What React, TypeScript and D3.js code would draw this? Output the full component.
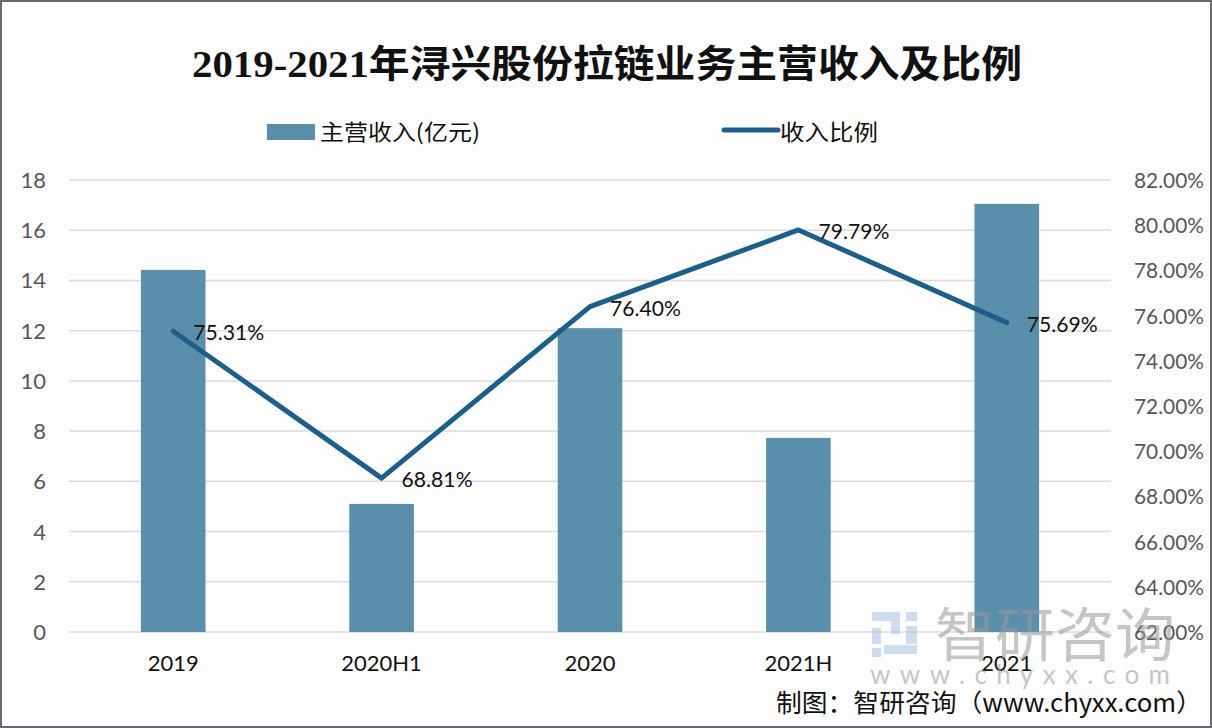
import React from "react";
import * as d3 from "d3";

const categories = ["2019", "2020H1", "2020", "2021H", "2021"];
const revenue = [14.42, 5.1, 12.1, 7.73, 17.05];
const ratio = [75.31, 68.81, 76.4, 79.79, 75.69];
const leftTicks = [0, 2, 4, 6, 8, 10, 12, 14, 16, 18];
const rightTicks = [62, 64, 66, 68, 70, 72, 74, 76, 78, 80, 82];

const W = 1212;
const H = 728;
const plot = { left: 69, right: 1111, top: 180, bottom: 632 };
const barColor = "#5a8fab";
const lineColor = "#1d5f8a";
const axisText = "#595560";
const cjk = "'Noto Sans CJK SC', 'Noto Sans', sans-serif";
const serif = "'Liberation Serif', 'DejaVu Serif', 'Noto Sans CJK SC', serif";
const latin = "Lato, 'Open Sans', 'Noto Sans', sans-serif";

export default function App() {
  const x = d3.scaleBand<string>().domain(categories).range([plot.left, plot.right]).paddingInner(0.69).paddingOuter(0.345);
  const yL = d3.scaleLinear().domain([0, 18]).range([plot.bottom, plot.top]);
  const yR = d3.scaleLinear().domain([62, 82]).range([plot.bottom, plot.top]);
  const cx = (c: string) => (x(c) as number) + x.bandwidth() / 2;
  const line = d3
    .line<number>()
    .x((_, i) => cx(categories[i]))
    .y((d) => yR(d));

  return (
    <svg width={W} height={H} style={{ position: "absolute", left: 0, top: 0 }}>
      <rect x={0} y={0} width={W} height={H} fill="#fdfdfe" />
      <rect x={1} y={1} width={W - 2} height={H - 2} fill="none" stroke="#6a6a70" strokeWidth={2} />
      <text x={607} y={77} textAnchor="middle" fontFamily={serif} fontWeight={700} fontSize={38} fill="#111" textLength={830} lengthAdjust="spacingAndGlyphs">
        2019-2021年浔兴股份拉链业务主营收入及比例
      </text>
      {/* legend */}
      <rect x={267} y={124} width={48} height={16} fill={barColor} />
      <text x={320} y={140} fontFamily={cjk} fontSize={22} fill="#111" textLength={160} lengthAdjust="spacingAndGlyphs">主营收入(亿元)</text>
      <line x1={724} x2={778} y1={130} y2={130} stroke={lineColor} strokeWidth={5} strokeLinecap="round" />
      <text x={780} y={140} fontFamily={cjk} fontSize={22} fill="#111" textLength={98} lengthAdjust="spacingAndGlyphs">收入比例</text>
      {/* grid */}
      {leftTicks.map((t) => (
        <line key={t} x1={plot.left} x2={plot.right} y1={yL(t)} y2={yL(t)} stroke="#d9dbe1" strokeWidth={1.5} />
      ))}
      {leftTicks.map((t) => (
        <text key={"l" + t} x={46} y={yL(t) + 8} textAnchor="end" fontFamily={latin} fontSize={22} fill={axisText}>{t}</text>
      ))}
      {rightTicks.map((t) => (
        <text key={"r" + t} x={1134} y={yR(t) + 8} fontFamily={latin} fontSize={22} fill={axisText} textLength={70} lengthAdjust="spacingAndGlyphs">{t.toFixed(2)}%</text>
      ))}
      {/* bars */}
      {categories.map((c, i) => (
        <rect key={c} x={x(c)} y={yL(revenue[i])} width={x.bandwidth()} height={yL(0) - yL(revenue[i])} fill={barColor} />
      ))}
      {/* line */}
      <path d={line(ratio) || ""} fill="none" stroke={lineColor} strokeWidth={5} strokeLinejoin="round" strokeLinecap="round" />
      {categories.map((c, i) => (
        <text key={"v" + c} x={cx(c) + 20} y={yR(ratio[i]) + 9} fontFamily={latin} fontSize={22} fill="#111" textLength={71} lengthAdjust="spacingAndGlyphs">{ratio[i].toFixed(2)}%</text>
      ))}
      {categories.map((c) => (
        <text key={"x" + c} x={cx(c)} y={671} textAnchor="middle" fontFamily={latin} fontSize={22} fill="#111">{c}</text>
      ))}
      {/* watermark */}
      <g opacity={0.55}>
        <rect x={872} y={612} width={28} height={9} fill="#a9c4e0" />
        <rect x={891} y={612} width={9} height={22} fill="#a9c4e0" />
        <rect x={872} y={628} width={9} height={16} fill="#a9c4e0" />
        <rect x={872} y={648} width={9} height={9} fill="#a9c4e0" />
        <rect x={906} y={612} width={11} height={9} fill="#a9c4e0" />
        <rect x={906} y={626} width={11} height={18} fill="#a9c4e0" />
        <rect x={884} y={645} width={33} height={9} fill="#a9c4e0" />
        <text x={935} y={656} fontFamily={cjk} fontSize={58} fill="#999" textLength={240} lengthAdjust="spacingAndGlyphs">智研咨询</text>
        <text x={870} y={684} fontFamily={latin} fontSize={26} fill="#999" textLength={300} lengthAdjust="spacing">www.chyxx.com</text>
      </g>
      <text x={776} y={712} fontFamily={cjk} fontSize={25} fill="#111" textLength={426} lengthAdjust="spacingAndGlyphs">制图：智研咨询（www.chyxx.com）</text>
    </svg>
  );
}
